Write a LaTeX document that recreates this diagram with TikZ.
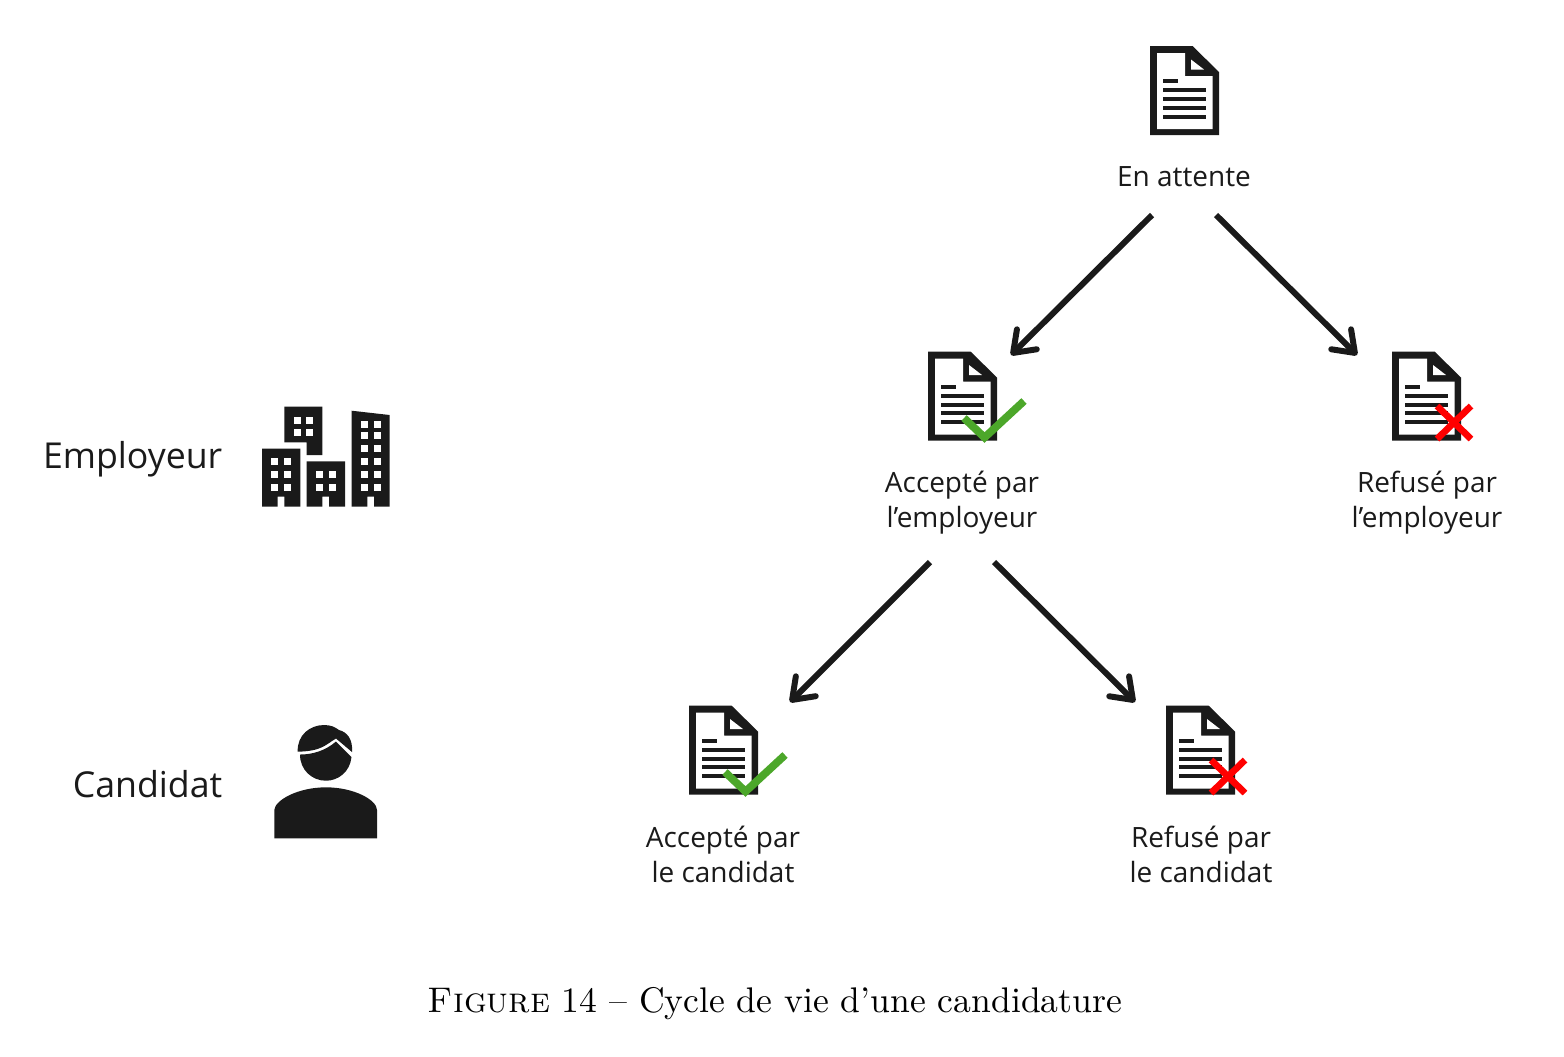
\documentclass[tikz,border=0pt]{standalone}
\usepackage{fontspec}
\newfontfamily\labelfont{Open Sans}
\usetikzlibrary{arrows.meta}

\definecolor{inkblack}{HTML}{1A1A1A}
\definecolor{tickgreen}{HTML}{4CA72A}

\tikzset{docnode/.style={minimum width=0.69cm,minimum height=0.89cm,inner sep=0pt},
        statelabel/.style={align=center,inner sep=0pt,text=inkblack,font=\labelfont\fontsize{7.95}{9.95}\selectfont},
        sidelabel/.style={anchor=east,inner sep=0pt,text=inkblack,font=\labelfont\fontsize{10.15}{12}\selectfont},
        flowarrow/.style={draw=inkblack,line width=1.7pt,-{Straight Barb[length=5.5pt,width=8pt,round]}},
        pics/docicon/.style={code={
                \fill[inkblack] (-34.5,-44.5) -- (8,-44.5) -- (34.5,-18.5) -- (34.5,44.5) -- (-34.5,44.5) -- cycle;
                \fill[white] (-27.5,-37.5) -- (0.5,-37.5) -- (0.5,-14.5) -- (28,-14.5) -- (28,38.5) -- (-27.5,38.5) -- cycle;
                \fill[white] (6.5,-31) -- (6.5,-21) -- (19.5,-21) -- cycle;
                \fill[inkblack] (-21.5,-11.5) rectangle (-6.5,-7.5);
                \foreach \ly in {-0.5,8.5,17,26}
                        \fill[inkblack] (-21.5,\ly-2) rectangle (21.5,\ly+2);
        }},
        pics/tickmark/.style={code={
                \draw[tickgreen,line width=2.2pt] (1.5,22) -- (22,41.5) -- (61.5,5);
        }},
        pics/crossmark/.style={code={
                \draw[red,line width=1.9pt] (10.5,10) -- (44.5,43);
                \draw[red,line width=1.9pt] (44.5,10) -- (10.5,43);
        }}}

\begin{document}
\begin{tikzpicture}[x=0.01cm,y=-0.01cm]
        \useasboundingbox (0,0) rectangle (1564,1056);

        % side labels and their icons
        \node[sidelabel] (employer) at (223,459) {Employeur};
        \node[sidelabel] (candidate) at (223,784) {Candidat};

        \fill[inkblack] (284.3,406.7) -- (322.3,406.7) -- (322.3,455) -- (306.7,455) -- (306.7,442.3) -- (284.3,442.3) -- cycle;
        \fill[inkblack] (262,448.7) -- (300.3,448.7) -- (300.3,506.7) -- (284.3,506.7) -- (284.3,496.7) -- (277.7,496.7) -- (277.7,506.7) -- (262,506.7) -- cycle;
        \fill[inkblack] (306.7,461.3) -- (345,461.3) -- (345,506.7) -- (329,506.7) -- (329,496.7) -- (322.3,496.7) -- (322.3,506.7) -- (306.7,506.7) -- cycle;
        \fill[inkblack] (351.7,410.7) -- (389.7,415) -- (389.7,506.7) -- (374,506.7) -- (374,496.7) -- (367.3,496.7) -- (367.3,506.7) -- (351.7,506.7) -- cycle;
        \foreach \wx/\wy in {297/420,309.7/420,297/432.7,309.7/432.7,
                274.7/461.3,287.3/461.3,274.7/474.3,287.3/474.3,274.7/487,287.3/487,
                319.3/474.3,332.3/474.3,319.3/487,332.3/487,
                364.3/424.7,377/424.7,364.3/435.7,377/435.7,364.3/448.3,377/448.3,
                364.3/461.3,377/461.3,364.3/474.3,377/474.3,364.3/487,377/487}
                \fill[white] (\wx-3.5,\wy-3.5) rectangle (\wx+3.5,\wy+3.5);

        \fill[inkblack] (297.7,751.7) .. controls (297,735) and (310,725) .. (324,725)
                .. controls (331,725) and (335,727) .. (339,730)
                .. controls (347,732) and (353,739) .. (352,752) -- (336,738.5)
                .. controls (325,745) and (322,751) .. (297.7,751.7) -- cycle;
        \fill[inkblack] (300,754.5) .. controls (312,754.5) and (325,751) .. (336,741.5) -- (351.5,757)
                .. controls (350,772) and (338,780.7) .. (326,780.7)
                .. controls (312,780.7) and (300,770) .. (300,754.5) -- cycle;
        \fill[inkblack] (274.3,838.3) -- (274.3,810) .. controls (275,800) and (298,787.3) .. (326,787.3)
                .. controls (354,787.3) and (377,800) .. (377,810) -- (377,838.3) -- cycle;

        % the states
        \node[docnode] (docWait) at (1184.5,90.5) {};
        \node[docnode] (docEmpOk) at (962.5,396) {};
        \node[docnode] (docEmpNo) at (1426.5,396) {};
        \node[docnode] (docCandOk) at (723.5,750) {};
        \node[docnode] (docCandNo) at (1200.5,750) {};

        \pic at (docWait) {docicon};
        \pic at (docEmpOk) {docicon};
        \pic at (docEmpNo) {docicon};
        \pic at (docCandOk) {docicon};
        \pic at (docCandNo) {docicon};
        \pic at (docEmpOk) {tickmark};
        \pic at (docCandOk) {tickmark};
        \pic at (docEmpNo) {crossmark};
        \pic at (docCandNo) {crossmark};

        \node[statelabel] (lblWait) at (1184,177) {En attente};
        \node[statelabel] (lblEmpOk) at (962,503) {Accepté par\\l’employeur};
        \node[statelabel] (lblEmpNo) at (1427,503) {Refusé par\\l’employeur};
        \node[statelabel] (lblCandOk) at (723,854) {Accepté par\\le candidat};
        \node[statelabel] (lblCandNo) at (1201,854) {Refusé par\\le candidat};

        \draw[flowarrow] ([shift={(-32,38)}]lblWait.center) -- ([shift={(48.5,-41)}]docEmpOk.center);
        \draw[flowarrow] ([shift={(32,38)}]lblWait.center) -- ([shift={(-69.5,-41)}]docEmpNo.center);
        \draw[flowarrow] ([shift={(-32,59)}]lblEmpOk.center) -- ([shift={(66.5,-48)}]docCandOk.center);
        \draw[flowarrow] ([shift={(32,59)}]lblEmpOk.center) -- ([shift={(-65.5,-48)}]docCandNo.center);

        \node[inner sep=0pt,font=\fontsize{10.13}{12}\selectfont] (caption) at (775,1003.5) {\textsc{Figure} 14 -- Cycle de vie d’une candidature};
\end{tikzpicture}
\end{document}
